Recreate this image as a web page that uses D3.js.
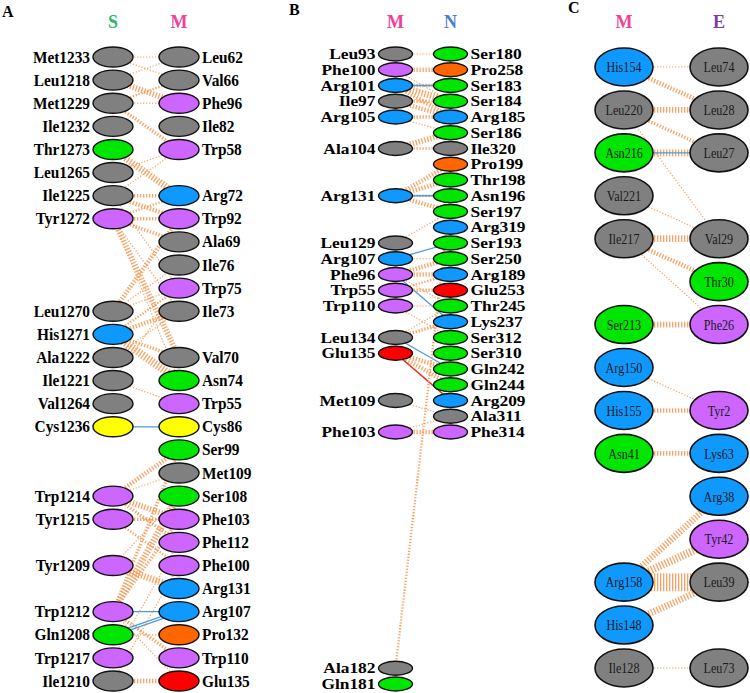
<!DOCTYPE html>
<html><head><meta charset="utf-8">
<script src="https://cdn.jsdelivr.net/npm/d3@7"></script>
<style>body{margin:0;background:#fff}svg{display:block}</style>
</head><body>
<svg id="chart" width="750" height="693"></svg>
<script>
// ---------- DATA ----------
// Panel A : S (left) vs M (right)
const aLeftNames  = ["Met1233","Leu1218","Met1229","Ile1232","Thr1273","Leu1265","Ile1225","Tyr1272","Leu1270","His1271","Ala1222","Ile1221","Val1264","Cys1236","Trp1214","Tyr1215","Tyr1209","Trp1212","Gln1208","Trp1217","Ile1210"];
const aLeftRows   = [0,1,2,3,4,5,6,7,11,12,13,14,15,16,19,20,22,24,25,26,27];
const aRightNames = ["Leu62","Val66","Phe96","Ile82","Trp58","Arg72","Trp92","Ala69","Ile76","Trp75","Ile73","Val70","Asn74","Trp55","Cys86","Ser99","Met109","Ser108","Phe103","Phe112","Phe100","Arg131","Arg107","Pro132","Trp110","Glu135"];
const aRightRows  = [0,1,2,3,4,6,7,8,9,10,11,13,14,15,16,17,18,19,20,21,22,23,24,25,26,27];
// [left, right, number of contacts, kind]  kind: c = non-bonded contact, h = hydrogen bond, s = salt bridge
const aLinks = [
  ["Met1233","Leu62",1,"c"],["Met1233","Val66",1,"c"],["Leu1218","Leu62",1,"c"],
  ["Leu1218","Phe96",5,"c"],["Met1229","Val66",2,"c"],["Met1229","Phe96",1,"c"],
  ["Met1229","Trp58",3,"c"],["Thr1273","Arg72",6,"c"],["Leu1265","Trp58",1,"c"],
  ["Ile1225","Trp58",1,"c"],["Ile1225","Arg72",3,"c"],["Ile1225","Trp92",4,"c"],
  ["Tyr1272","Arg72",2,"c"],["Tyr1272","Trp92",3,"c"],["Tyr1272","Ala69",3,"c"],
  ["Tyr1272","Val70",5,"c"],["Tyr1272","Ile73",1,"c"],["Tyr1272","Asn74",1,"c"],
  ["Ile1225","Trp75",1,"c"],["Leu1270","Trp92",4,"c"],["Leu1270","Ile76",1,"c"],
  ["Leu1270","Trp75",1,"c"],["His1271","Ile73",4,"c"],["His1271","Trp75",2,"c"],
  ["His1271","Asn74",7,"c"],["His1271","Val70",3,"c"],["Ala1222","Ile73",1,"c"],
  ["Ile1221","Trp75",1,"c"],["Ile1221","Trp55",1,"c"],["Cys1236","Cys86",1,"h"],
  ["Trp1214","Ser99",4,"c"],["Trp1214","Met109",1,"c"],["Trp1214","Phe103",5,"c"],
  ["Trp1214","Phe112",3,"c"],["Tyr1215","Phe103",3,"c"],["Tyr1215","Phe100",2,"c"],
  ["Tyr1209","Ser108",1,"c"],["Tyr1209","Arg131",6,"c"],["Trp1212","Ser99",3,"c"],
  ["Trp1212","Ser108",6,"c"],["Trp1212","Phe103",3,"c"],["Trp1212","Arg107",1,"h"],
  ["Trp1212","Trp110",3,"c"],["Trp1212","Glu135",1,"c"],["Gln1208","Arg107",2,"h"],
  ["Gln1208","Pro132",1,"c"],["Trp1217","Phe112",1,"c"],["Ile1210","Glu135",4,"c"],
  ["Ile1210","Phe100",1,"c"]
];

// Panel B : M (left) vs N (right)
const bLeftNames  = ["Leu93","Phe100","Arg101","Ile97","Arg105","Ala104","Arg131","Leu129","Arg107","Phe96","Trp55","Trp110","Leu134","Glu135","Met109","Phe103","Ala182","Gln181"];
const bLeftRows   = [0,1,2,3,4,6,9,12,13,14,15,16,18,19,22,24,39,40];
const bRightNames = ["Ser180","Pro258","Ser183","Ser184","Arg185","Ser186","Ile320","Pro199","Thr198","Asn196","Ser197","Arg319","Ser193","Ser250","Arg189","Glu253","Thr245","Lys237","Ser312","Ser310","Gln242","Gln244","Arg209","Ala311","Phe314"];
const bRightRows  = [0,1,2,3,4,5,6,7,8,9,10,11,12,13,14,15,16,17,18,19,20,21,22,23,24];
const bLinks = [
  ["Leu93","Ser180",1,"c"],["Phe100","Pro258",4,"c"],["Phe100","Ser184",1,"c"],
  ["Arg101","Ser183",3,"c"],["Arg101","Ser183",1,"h"],["Arg101","Ser184",6,"c"],
  ["Arg101","Arg185",4,"c"],["Ile97","Ser184",3,"c"],["Ile97","Arg185",4,"c"],
  ["Arg105","Arg185",3,"c"],["Arg105","Ser186",1,"c"],["Ala104","Ser186",5,"c"],
  ["Ala104","Ile320",2,"c"],["Arg131","Pro199",4,"c"],["Arg131","Thr198",4,"c"],
  ["Arg131","Asn196",2,"c"],["Arg131","Asn196",1,"h"],["Arg131","Ser197",4,"c"],
  ["Leu129","Ser197",1,"c"],["Arg107","Ser193",1,"h"],["Arg107","Ser250",1,"c"],
  ["Phe96","Ser250",4,"c"],["Phe96","Arg189",4,"c"],["Phe96","Lys237",1,"h"],
  ["Phe96","Thr245",1,"c"],["Trp55","Glu253",3,"c"],["Trp55","Arg189",2,"c"],
  ["Trp110","Thr245",1,"c"],["Trp110","Ser312",1,"c"],["Leu134","Lys237",3,"c"],
  ["Leu134","Thr245",1,"c"],["Leu134","Gln242",1,"h"],["Glu135","Gln242",4,"c"],
  ["Glu135","Gln244",4,"c"],["Glu135","Arg209",1,"s"],["Met109","Ala311",1,"c"],
  ["Phe103","Phe314",4,"c"],["Phe103","Ala311",1,"c"],["Ala182","Asn196",2,"c"]
];

// Panel C : M (left) vs E (right)
const cLeftNames  = ["His154","Leu220","Asn216","Val221","Ile217","Ser213","Arg150","His155","Asn41","Arg158","His148","Ile128"];
const cLeftRows   = [0,1,2,3,4,6,7,8,9,12,13,14];
const cRightNames = ["Leu74","Leu28","Leu27","Val29","Thr30","Phe26","Tyr2","Lys63","Arg38","Tyr42","Leu39","Leu73"];
const cRightRows  = [0,1,2,4,5,6,8,9,10,11,12,14];
const cLinks = [
  ["His154","Leu74",1,"c"],["His154","Leu28",4,"c"],["Leu220","Leu28",5,"c"],
  ["Leu220","Leu27",3,"c"],["Leu220","Val29",1,"c"],["Asn216","Leu27",6,"c"],
  ["Asn216","Leu27",1,"h"],["Val221","Val29",1,"c"],["Ile217","Val29",6,"c"],
  ["Ile217","Thr30",4,"c"],["Ile217","Phe26",1,"c"],["Ser213","Phe26",5,"c"],
  ["Arg150","Tyr2",1,"c"],["His155","Tyr2",4,"c"],["Asn41","Lys63",4,"c"],
  ["Arg158","Arg38",6,"c"],["Arg158","Tyr42",7,"c"],["Arg158","Leu39",16,"c"],
  ["His148","Leu39",6,"c"],["Ile128","Leu73",1,"c"]
];

// ---------- STYLE / LAYOUT ----------
const residueColor = code => ({
  Ala:"#808080",Val:"#808080",Leu:"#808080",Ile:"#808080",Met:"#808080",Gly:"#808080",
  Phe:"#cc66ff",Tyr:"#cc66ff",Trp:"#cc66ff",
  Ser:"#00e600",Thr:"#00e600",Asn:"#00e600",Gln:"#00e600",
  Arg:"#0f99ff",Lys:"#0f99ff",His:"#0f99ff",
  Glu:"#ff0000",Asp:"#ff0000",Cys:"#ffff00",Pro:"#ff6600"
})[code.slice(0,3)] || "#808080";

const contactWidth = d3.scaleLinear().domain([1,16]).range([1.2,18]);
const svg = d3.select("#chart");
const SERIF = "'Liberation Serif','Times New Roman',serif";

const panels = [
  {letter:"A", letterX:2, letterY:17, heads:["S","M"], headColors:["#2db86a","#f0409a"],
   xL:113, xR:179, rowMax:27, y0:57, y1:681, rx:20, ry:10, fs:16, sx:0.96, inside:false,
   left:aLeftNames, leftRows:aLeftRows, right:aRightNames, rightRows:aRightRows, links:aLinks},
  {letter:"B", letterX:289, letterY:15, heads:["M","N"], headColors:["#f0409a","#4a7fd0"],
   xL:395.5, xR:450.5, rowMax:24, y0:54, y1:432, rx:17, ry:7, fs:14.5, sx:1.2, inside:false,
   left:bLeftNames, leftRows:bLeftRows, right:bRightNames, rightRows:bRightRows, links:bLinks},
  {letter:"C", letterX:568, letterY:13, heads:["M","E"], headColors:["#f0409a","#7a3db0"],
   xL:624, xR:719, rowMax:14, y0:67, y1:668, rx:29, ry:19, fs:15, sx:0.81, inside:true,
   left:cLeftNames, leftRows:cLeftRows, right:cRightNames, rightRows:cRightRows, links:cLinks}
];

panels.forEach(p => {
  const g = svg.append("g");
  const y = d3.scaleLinear().domain([0, p.rowMax]).range([p.y0, p.y1]);
  const x = d3.scalePoint().domain(["L","R"]).range([p.xL, p.xR]);
  const leftNodes = p.left.map((n,i) => ({name:n, side:"L", row:p.leftRows[i]}));
  const rightNodes = p.right.map((n,i) => ({name:n, side:"R", row:p.rightRows[i]}));
  const pos = {};
  leftNodes.concat(rightNodes).forEach(d => { pos[d.side + d.name] = [x(d.side), y(d.row)]; });

  g.append("text").attr("x", p.letterX).attr("y", p.letterY).text(p.letter)
    .attr("font-family", SERIF).attr("font-weight", "bold").attr("font-size", 16);
  g.selectAll("text.head").data(p.heads).join("text").attr("class","head")
    .attr("x", (d,i) => x(i ? "R" : "L")).attr("y", 28).attr("text-anchor","middle")
    .attr("font-family", SERIF).attr("font-weight","bold").attr("font-size",18)
    .attr("fill", (d,i) => p.headColors[i]).text(d => d);

  // links
  p.links.forEach(l => {
    const a = pos["L" + l[0]], b = pos["R" + l[1]];
    if (!a || !b) return;
    if (l[3] === "c") {
      g.append("line").attr("x1",a[0]).attr("y1",a[1]).attr("x2",b[0]).attr("y2",b[1])
        .attr("stroke","#f59a55").attr("stroke-width", contactWidth(l[2]))
        .attr("stroke-dasharray","1.3 1.7").attr("stroke-opacity",0.9);
    } else {
      const n = l[2];
      for (let k = 0; k < n; k++) {
        const off = (k - (n - 1) / 2) * 2.6;
        g.append("line").attr("x1",a[0]).attr("y1",a[1]+off).attr("x2",b[0]).attr("y2",b[1]+off)
          .attr("stroke", l[3] === "h" ? "#4a9de0" : "#e8281c")
          .attr("stroke-width", l[3] === "h" ? 1.3 : 1.6);
      }
    }
  });

  // nodes
  const nodes = leftNodes.concat(rightNodes);
  const ng = g.selectAll("g.node").data(nodes).join("g").attr("class","node")
    .attr("transform", d => `translate(${x(d.side)},${y(d.row)})`);
  ng.append("ellipse").attr("rx", p.rx).attr("ry", p.ry)
    .attr("fill", d => residueColor(d.name)).attr("stroke","#111")
    .attr("stroke-width", p.inside ? 1.6 : 1.4);
  ng.append("text")
    .attr("transform", d => {
      const tx = p.inside ? 0 : (d.side === "L" ? -p.rx - 3 : p.rx + 3);
      return `translate(${tx},0) scale(${p.sx},1)`;
    })
    .attr("dy","0.35em")
    .attr("text-anchor", d => p.inside ? "middle" : (d.side === "L" ? "end" : "start"))
    .attr("font-family", SERIF)
    .attr("font-weight", p.inside ? "normal" : "bold")
    .attr("font-size", p.fs)
    .attr("fill", p.inside ? "#1a1a1a" : "#000")
    .text(d => d.name);
});
</script>
</body></html>
